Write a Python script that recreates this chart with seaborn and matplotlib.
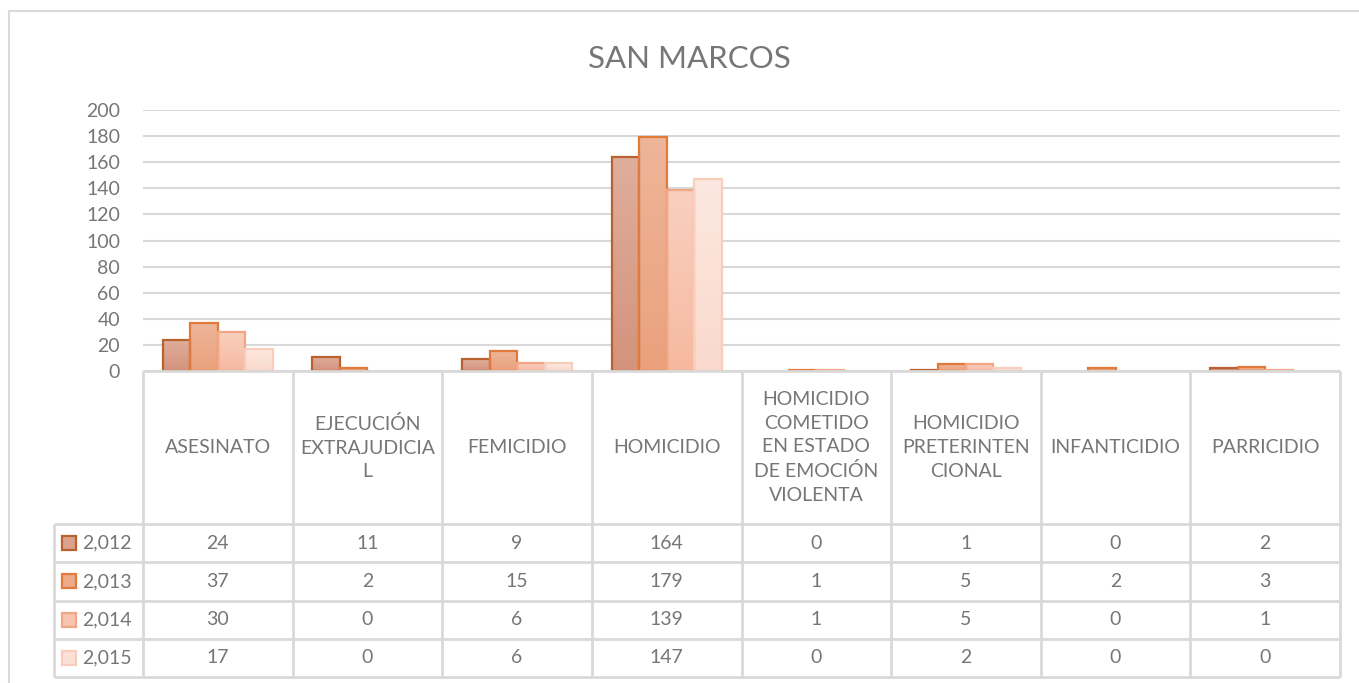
import numpy as np
import pandas as pd
import seaborn as sns
import matplotlib.pyplot as plt
from matplotlib.patches import Rectangle
from matplotlib.colors import LinearSegmentedColormap

# Data
categories = ["ASESINATO", "EJECUCIÓN EXTRAJUDICIAL", "FEMICIDIO", "HOMICIDIO",
              "HOMICIDIO COMETIDO EN ESTADO DE EMOCIÓN VIOLENTA",
              "HOMICIDIO PRETERINTENCIONAL", "INFANTICIDIO", "PARRICIDIO"]
header_labels = ["ASESINATO", "EJECUCIÓN\nEXTRAJUDICIA\nL", "FEMICIDIO", "HOMICIDIO",
                 "HOMICIDIO\nCOMETIDO\nEN ESTADO\nDE EMOCIÓN\nVIOLENTA",
                 "HOMICIDIO\nPRETERINTEN\nCIONAL", "INFANTICIDIO", "PARRICIDIO"]
years = ["2,012", "2,013", "2,014", "2,015"]
casos_2012 = [24, 11, 9, 164, 0, 1, 0, 2]
casos_2013 = [37, 2, 15, 179, 1, 5, 2, 3]
casos_2014 = [30, 0, 6, 139, 1, 5, 0, 1]
casos_2015 = [17, 0, 6, 147, 0, 2, 0, 0]
series = [casos_2012, casos_2013, casos_2014, casos_2015]
y_ticks = list(range(0, 201, 20))

fills = ["#DBA28E", "#ECAA88", "#F7C4AF", "#FBE0D6"]
tops = ["#DFAE9C", "#EEB59A", "#F9D0BF", "#FCE8E0"]
bottoms = ["#D4937C", "#EAA17C", "#F6B9A0", "#FAD9CC"]
edges = ["#B8622F", "#E07B3C", "#F2A686", "#F8CDBB"]
gray = "#767676"
line_gray = "#D9D9D9"

rows = []
for yr, vals in zip(years, series):
    for cat, v in zip(categories, vals):
        rows.append({"tipo": cat, "anio": yr, "casos": v})
df = pd.DataFrame(rows)

sns.set_theme(style="white")
plt.rcParams["font.family"] = ["Lato", "DejaVu Sans"]

W, H = 1359, 683
fig = plt.figure(figsize=(W / 100, H / 100), dpi=100)

# layout in pixels
plot_left, plot_right = 143, 1340
y0_px, y200_px = 371, 110
tab_left = 54
head_bottom = 524
row_h = (677 - head_bottom) / 4
unit = (plot_right - plot_left) / len(categories)


def px2x(px):
    return -0.5 + (px - plot_left) / unit


ax = fig.add_axes([plot_left / W, 1 - y0_px / H, (plot_right - plot_left) / W, (y0_px - y200_px) / H])
sns.barplot(data=df, x="tipo", y="casos", hue="anio", palette=fills, width=0.735,
            saturation=1, linewidth=1.6, legend=False, ax=ax, zorder=3)

# vertical gradient inside each bar, like the Excel fill
grad = np.linspace(0, 1, 64).reshape(-1, 1)
for k, cont in enumerate(ax.containers):
    cmap = LinearSegmentedColormap.from_list(f"g{k}", [bottoms[k], tops[k]])
    for bar in cont:
        bar.set_edgecolor(edges[k])
        h = bar.get_height()
        if h == 0:
            bar.set_linewidth(0)
            continue
        x = bar.get_x()
        im = ax.imshow(grad, extent=[x, x + bar.get_width(), 0, h], origin="lower",
                       aspect="auto", cmap=cmap, zorder=3.1, interpolation="bilinear")
        im.set_clip_path(bar)
        bar.set_facecolor("none")
        bar.set_zorder(3.2)

ax.set_xlim(-0.5, len(categories) - 0.5)
ax.set_ylim(0, 200)
ax.set_aspect("auto")
ax.set_yticks(y_ticks)
ax.set_xticks([])
ax.set_xlabel("")
ax.set_ylabel("")
ax.yaxis.grid(True, color=line_gray, lw=1.5)
ax.set_axisbelow(True)
for s in ax.spines.values():
    s.set_visible(False)
ax.tick_params(axis="y", length=0, pad=16.5, labelsize=14, labelcolor=gray)
ax.patch.set_alpha(0)

# data table
tax = fig.add_axes([tab_left / W, 1 - 677 / H, (plot_right - tab_left) / W, (677 - y0_px) / H])
tax.set_xlim(px2x(tab_left), len(categories) - 0.5)
tax.set_ylim(677, y0_px)
tax.axis("off")

lkw = dict(color=line_gray, lw=2, clip_on=False, solid_capstyle="butt")
for i in range(len(categories) + 1):
    tax.plot([i - 0.5, i - 0.5], [y0_px, 677], **lkw)
tax.plot([px2x(tab_left)] * 2, [head_bottom, 677], **lkw)
tax.plot([-0.5, len(categories) - 0.5], [y0_px, y0_px], **lkw)
for r in range(len(years) + 1):
    yy = head_bottom + r * row_h
    tax.plot([px2x(tab_left), len(categories) - 0.5], [yy, yy], **lkw)

for i, lab in enumerate(header_labels):
    tax.text(i, (y0_px + head_bottom) / 2, lab, ha="center", va="center",
             fontsize=14, color=gray, linespacing=1.47)

for r, (yr, vals) in enumerate(zip(years, series)):
    yc = head_bottom + (r + 0.5) * row_h
    sw = 14
    tax.add_patch(Rectangle((px2x(62), yc - sw / 2), sw / unit, sw,
                            facecolor=fills[r], edgecolor=edges[r], lw=1.6, clip_on=False))
    tax.text(px2x(82), yc, yr, ha="left", va="center", fontsize=14, color=gray)
    for i, v in enumerate(vals):
        tax.text(i, yc, str(v), ha="center", va="center", fontsize=14, color=gray)

# chart border (left and top only visible)
fig.patches.append(Rectangle((9 / W, -0.1), 1.2, (H - 11) / H + 0.1, transform=fig.transFigure,
                             fill=False, edgecolor=line_gray, lw=1.5))

fig.text(689 / W, 1 - 59 / H, "SAN MARCOS", ha="center", va="center", fontsize=22.5, color=gray)

fig.savefig("out.png", dpi=100)
